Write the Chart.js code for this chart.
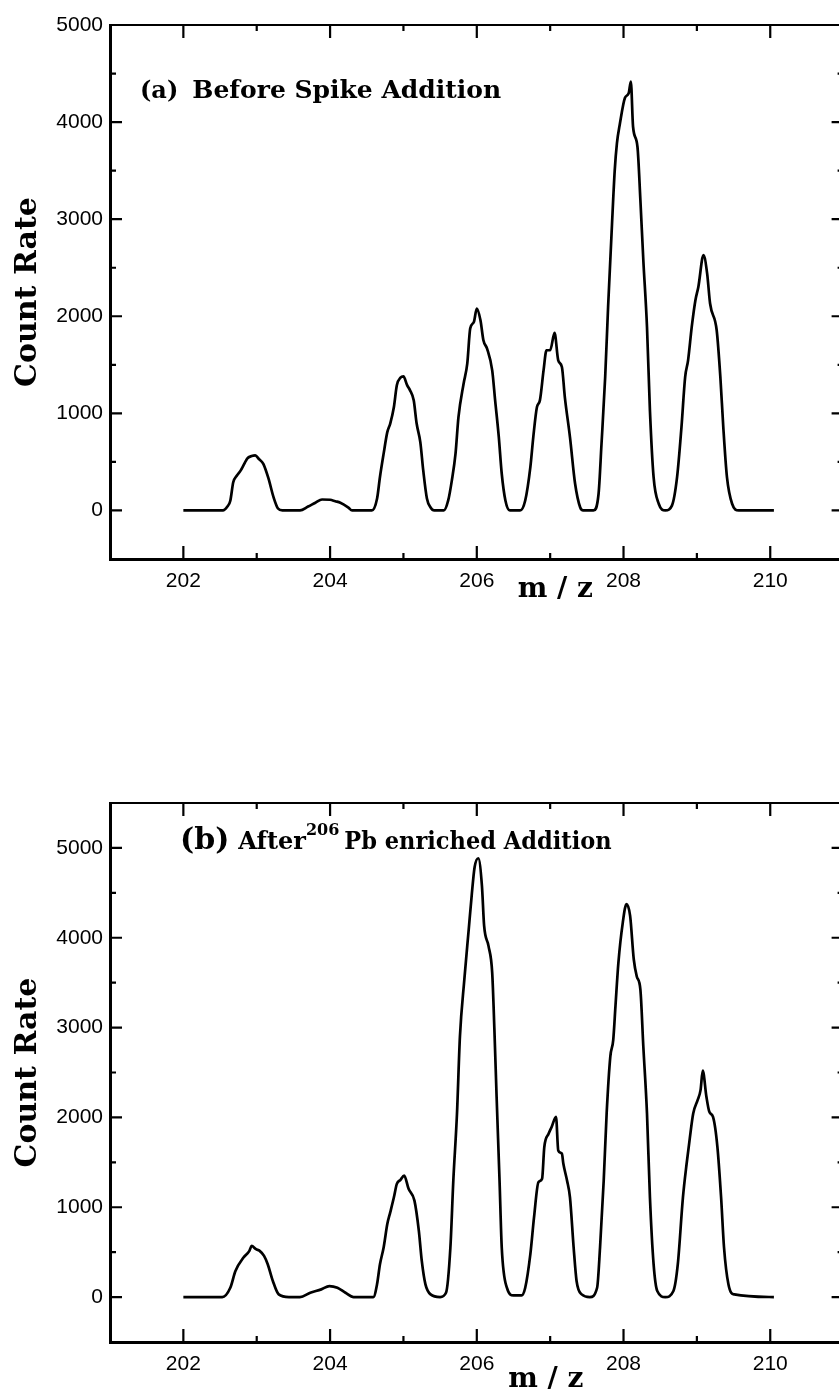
<!DOCTYPE html>
<html>
<head>
<meta charset="utf-8">
<script src="https://cdn.jsdelivr.net/npm/chart.js@4.4.1/dist/chart.umd.min.js"></script>
<style>
  html, body { margin:0; padding:0; background:#fff; overflow:hidden; width:839px; height:1395px; }
  canvas { position:absolute; left:0; }
  #c1 { top:0; }
  #c2 { top:770px; }
</style>
</head>
<body>
<canvas id="c1" width="860" height="640"></canvas>
<canvas id="c2" width="860" height="625"></canvas>
<script>
// ---------- data ----------
const massA = [202.00,202.54,202.60,202.64,202.68,202.73,202.78,202.83,202.87,202.93,202.98,203.03,203.09,203.16,203.23,203.29,203.35,203.45,203.59,203.70,203.80,203.89,204.00,204.07,204.14,204.25,204.30,204.45,204.57,
  204.64,204.68,204.73,204.78,204.82,204.87,204.91,204.96,205.00,205.05,205.09,205.14,205.18,205.23,205.27,205.32,205.37,205.42,205.55,
  205.61,205.66,205.71,205.75,205.82,205.87,205.91,205.96,206.00,206.05,206.09,206.14,206.21,206.25,206.30,206.34,206.39,206.45,206.59,
  206.66,206.73,206.77,206.82,206.86,206.91,206.95,207.00,207.06,207.11,207.16,207.20,207.27,207.34,207.41,207.45,207.59,
  207.66,207.70,207.75,207.79,207.84,207.88,207.91,207.95,208.02,208.07,208.10,208.13,208.19,208.23,208.27,208.32,208.36,208.41,208.48,208.57,208.66,
  208.73,208.79,208.84,208.88,208.93,208.98,209.02,209.09,209.14,209.18,209.27,209.32,209.36,209.41,209.48,209.57,210.05];
const countA = [0,0,40,100,290,360,410,480,535,560,567,530,480,330,135,20,0,0,0,40,80,113,110,95,80,30,0,0,0,
  120,345,585,807,895,1065,1290,1368,1380,1290,1237,1134,895,704,412,124,30,0,0,
  103,310,585,962,1306,1512,1873,1941,2079,1959,1753,1667,1443,1134,756,378,103,0,0,
  103,447,756,1065,1134,1443,1650,1650,1828,1546,1478,1168,756,275,30,0,0,
  172,687,1374,2100,2900,3500,3780,3980,4250,4296,4416,3952,3746,3196,2577,1890,1031,343,69,0,50,
  343,859,1374,1546,1890,2165,2302,2629,2440,2131,1856,1374,859,343,69,0,0];

const massB = [202.00,202.53,202.64,202.71,202.82,202.90,202.93,202.99,203.04,203.10,203.15,203.22,203.30,203.44,203.59,203.73,203.88,203.99,204.10,204.21,204.32,204.59,
  204.64,204.68,204.73,204.78,204.82,204.87,204.91,204.96,205.01,205.07,205.15,205.21,205.25,205.30,205.37,205.50,205.58,
  205.64,205.68,205.73,205.77,205.83,205.89,205.93,205.97,206.02,206.07,206.10,206.16,206.21,206.24,206.27,206.31,206.34,206.41,206.50,206.61,206.66,
  206.73,206.78,206.84,206.89,206.92,206.98,207.02,207.08,207.11,207.16,207.18,207.23,207.27,207.32,207.36,207.43,207.54,207.64,
  207.68,207.73,207.77,207.82,207.86,207.89,207.93,207.99,208.04,208.09,208.14,208.18,208.23,208.27,208.32,208.36,208.41,208.46,208.57,208.68,
  208.74,208.81,208.86,208.90,208.95,209.01,209.05,209.08,209.13,209.17,209.22,209.28,209.33,209.37,209.43,209.51,210.05];
const countB = [0,0,104,291,440,515,570,533,515,459,366,179,30,0,0,48,86,123,104,48,0,0,
  142,366,552,813,943,1111,1260,1305,1353,1205,1074,738,403,142,30,0,48,
  552,1298,2044,2900,3535,4094,4467,4784,4885,4578,4131,3907,3609,2975,2230,1298,552,104,19,19,104,
  478,887,1279,1317,1670,1820,1894,2006,1633,1596,1484,1298,1111,552,179,30,0,104,
  552,1298,2044,2677,2864,3236,3721,4169,4374,4243,3758,3572,3423,2789,2044,1111,366,67,0,67,
  366,1111,1484,1745,2044,2192,2304,2520,2230,2062,2006,1670,1111,552,142,30,0];

const xRange = [201, 211];
const yRangeA = [-500, 5000];
const yRangeB = [-500, 5500];
const yLabel = 'Count Rate';
const xLabel = 'm / z';

// ---------- helpers ----------
const SERIF = '"DejaVu Serif", serif';
const SANS = '"Liberation Sans", Arial, sans-serif';

const framePlugin = {
  id: 'frame',
  afterDraw(chart, args, opts) {
    const ctx = chart.ctx;
    const {left, right, top, bottom} = chart.chartArea;
    const xs = chart.scales.x, ys = chart.scales.y;
    ctx.save();
    ctx.strokeStyle = '#000';
    ctx.lineWidth = 2;
    ctx.beginPath();
    ctx.moveTo(left, top); ctx.lineTo(right, top); ctx.lineTo(right, bottom);
    ctx.stroke();
    ctx.lineWidth = 2.2;
    ctx.beginPath();
    xs.ticks.forEach(t => {
      if (t.value <= xs.min || t.value >= xs.max) return;
      const px = xs.getPixelForValue(t.value);
      const len = (Math.round(t.value) % 2 === 0) ? 13 : 6;
      ctx.moveTo(px, bottom); ctx.lineTo(px, bottom - len);
      ctx.moveTo(px, top); ctx.lineTo(px, top + len);
    });
    ys.ticks.forEach(t => {
      if (t.value <= ys.min || t.value >= ys.max) return;
      const py = ys.getPixelForValue(t.value);
      const len = (Math.round(t.value) % 1000 === 0) ? 12 : 6;
      ctx.moveTo(left, py); ctx.lineTo(left + len, py);
      ctx.moveTo(right, py); ctx.lineTo(right - len, py);
    });
    ctx.stroke();

    // x-axis label
    ctx.fillStyle = '#000';
    ctx.font = 'bold 28px ' + SERIF;
    ctx.textAlign = 'center';
    ctx.textBaseline = 'middle';
    ctx.fillText(xLabel, xs.getPixelForValue(opts.xLabelAt), opts.xLabelY, 80);

    // panel title
    ctx.textAlign = 'left';
    ctx.textBaseline = 'alphabetic';
    let x = opts.titleX;
    const base = opts.titleBase;
    opts.parts.forEach(p => {
      ctx.font = 'bold ' + p.size + 'px ' + SERIF;
      const w = ctx.measureText(p.text).width * (p.squeeze || 1);
      ctx.fillText(p.text, x, base - (p.rise || 0), w);
      x += w + (p.gap || 0);
    });
    ctx.restore();
  }
};

function makeChart(id, mass, counts, yRange, xAxisHeight, padTop, frameOpts) {
  const pts = mass.map((m, i) => ({x: m, y: counts[i]}));
  return new Chart(document.getElementById(id), {
    type: 'line',
    data: { datasets: [{
      data: pts,
      borderColor: '#000',
      borderWidth: 2.7,
      pointRadius: 0,
      cubicInterpolationMode: 'monotone',
      fill: false
    }]},
    options: {
      responsive: false,
      animation: false,
      devicePixelRatio: 1,
      layout: { padding: { left: 0, right: 16.4, top: padTop, bottom: 0 } },
      plugins: { legend: { display: false }, tooltip: { enabled: false }, frame: frameOpts },
      scales: {
        x: {
          type: 'linear', min: xRange[0], max: xRange[1],
          grid: { display: false, drawTicks: false },
          border: { display: true, color: '#000', width: 3 },
          ticks: {
            stepSize: 1, autoSkip: false, maxRotation: 0, padding: 10,
            color: '#000', font: { family: SANS, size: 21 },
            callback: v => (v % 2 === 0 && v > xRange[0] && v < xRange[1]) ? String(v) : ''
          },
          afterFit: s => { s.height = xAxisHeight; }
        },
        y: {
          min: yRange[0], max: yRange[1],
          grid: { display: false, drawTicks: false },
          border: { display: true, color: '#000', width: 3 },
          ticks: {
            stepSize: 500, autoSkip: false, padding: 7,
            color: '#000', font: { family: SANS, size: 21 },
            callback: v => (v % 1000 === 0) ? String(v) : ''
          },
          title: {
            display: true, text: yLabel, color: '#000',
            font: { family: SERIF, size: 30, weight: 'bold' },
            padding: { top: 10, bottom: 0 }
          },
          afterFit: s => { s.width = 110; }
        }
      }
    },
    plugins: [framePlugin]
  });
}

makeChart('c1', massA, countA, yRangeA, 81, 25, {
  xLabelAt: 207.07, xLabelY: 590,
  titleX: 140, titleBase: 98,
  parts: [
    { text: '(a)', size: 24, gap: 14 },
    { text: 'Before Spike Addition', size: 25 }
  ]
});

makeChart('c2', massB, countB, yRangeB, 53, 33, {
  xLabelAt: 206.94, xLabelY: 610,
  titleX: 180, titleBase: 79,
  parts: [
    { text: '(b)', size: 30, gap: 9 },
    { text: 'After', size: 25, squeeze: 0.96, gap: 0 },
    { text: '206', size: 16, rise: 14, gap: 5 },
    { text: 'Pb enriched Addition', size: 25, squeeze: 0.9 }
  ]
});
</script>
</body>
</html>
